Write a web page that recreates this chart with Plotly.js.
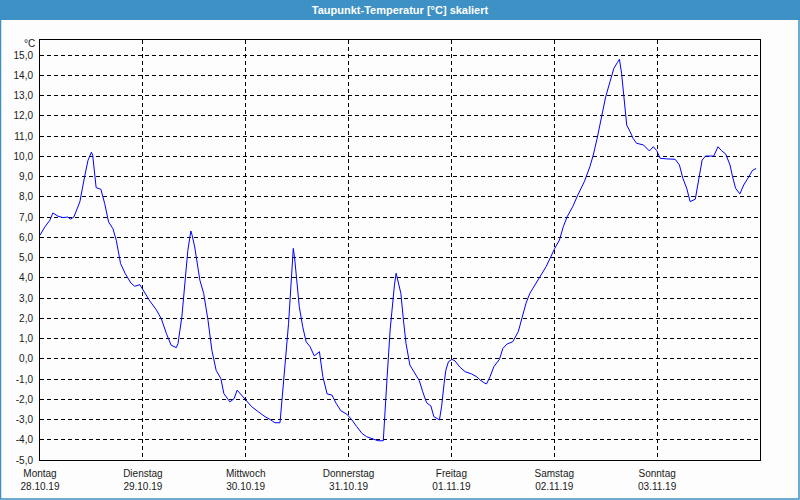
<!DOCTYPE html>
<html>
<head>
<meta charset="utf-8">
<script src="https://cdn.plot.ly/plotly-3.0.1.min.js"></script>
<style>html,body{margin:0;padding:0;background:#fcfdfc;}#chart{width:800px;height:500px;}</style>
</head>
<body>
<div id="chart"></div>
<script>
// hours since Monday 28.10.19 00:00
const hours = [0.0,1.1,2.3,3.0,4.2,5.4,6.5,7.1,7.9,9.3,10.4,11.2,12.0,12.3,13.1,14.2,15.1,16.0,17.0,17.8,18.8,19.9,21.2,22.1,23.3,
24.3,25.6,27.1,28.3,29.5,30.6,31.8,32.2,33.1,33.8,34.5,35.2,35.5,36.1,37.3,38.2,39.2,40.1,41.1,42.2,42.9,44.3,45.3,46.0,47.0,
48.2,49.4,50.9,52.5,53.7,54.8,56.0,56.6,57.2,58.0,58.6,59.1,59.4,59.9,60.5,61.3,62.1,63.0,64.0,65.2,66.0,67.0,68.1,69.1,70.2,71.6,
72.7,73.9,75.1,76.2,77.4,78.9,80.1,80.5,81.0,81.7,82.2,82.7,83.1,83.4,84.2,84.8,85.4,86.3,87.5,88.5,89.3,90.2,91.2,91.9,93.2,93.7,94.3,94.7,95.3,
96.1,96.8,98.0,99.2,100.7,101.9,102.7,103.8,104.2,105.0,105.9,107.2,108.0,109.0,110.3,111.6,112.4,113.4,114.3,115.5,116.7,118.1,119.2,
120.1,121.2,122.1,123.0,124.3,125.5,127.0,128.3,129.1,130.0,131.0,132.0,133.0,133.9,134.7,135.2,135.7,136.3,136.9,137.7,138.4,139.2,140.8,142.2,143.1,
143.9,144.7,146.2,148.2,149.2,150.0,150.9,151.7,152.9,153.7,154.5,155.3,157.2,158.2,159.0,160.0,161.0,161.6,162.3,163.3,164.2,165.4,166.2,167.1];
const dewpoint = [6.1,6.5,6.84,7.2,7.04,6.97,7.0,6.89,7.0,7.75,8.98,9.8,10.2,10.05,8.45,8.37,7.66,6.76,6.43,5.85,4.7,4.2,3.74,3.58,3.66,
3.3,2.86,2.43,1.98,1.24,0.67,0.55,0.75,2.07,3.88,5.36,6.31,6.1,5.52,3.88,3.22,1.9,0.42,-0.57,-0.98,-1.72,-2.13,-1.97,-1.55,-1.79,
-2.12,-2.37,-2.61,-2.86,-3.0,-3.16,-3.16,-1.87,-0.23,1.75,3.89,5.45,5.0,3.73,2.57,1.58,0.84,0.6,0.14,0.35,-0.89,-1.74,-1.79,-2.2,-2.57,-2.74,
-3.0,-3.35,-3.68,-3.85,-3.93,-4.05,-4.05,-2.86,-0.89,1.42,2.74,3.64,4.22,3.97,3.23,1.91,0.76,-0.31,-0.72,-1.08,-1.63,-2.17,-2.33,-2.86,-3.02,-2.37,-1.21,-0.56,-0.15,
-0.03,-0.1,-0.42,-0.64,-0.75,-0.89,-1.05,-1.21,-1.24,-0.89,-0.39,-0.03,0.51,0.73,0.84,1.34,1.91,2.74,3.23,3.64,4.05,4.55,5.04,
5.45,5.86,6.52,7.01,7.51,8.09,8.74,9.48,10.06,10.88,11.95,12.94,13.68,14.34,14.62,14.79,14.1,12.94,11.54,11.21,10.88,10.64,10.56,10.26,10.47,
10.28,9.9,9.87,9.85,9.57,8.91,8.42,7.76,7.88,8.83,9.81,10.01,10.01,10.47,10.28,10.11,9.57,8.99,8.42,8.14,8.58,8.99,9.29,9.40];

const dayTicks = [0,24,48,72,96,120,144];
const dayNames = ["Montag","Dienstag","Mittwoch","Donnerstag","Freitag","Samstag","Sonntag"];
const dayDates = ["28.10.19","29.10.19","30.10.19","31.10.19","01.11.19","02.11.19","03.11.19"];
const yTicks = [-5,-4,-3,-2,-1,0,1,2,3,4,5,6,7,8,9,10,11,12,13,14,15];
const yTickText = yTicks.map(v => v.toFixed(1).replace('.', ','));

// pixel -> paper helpers for decoration shapes
const px = p => (p - 40) / 720;
const py = p => (460 - p) / 420;

const trace = {
  x: hours, y: dewpoint, type: 'scatter', mode: 'lines',
  line: {color: '#0000ff', width: 1}, hoverinfo: 'x+y'
};

const layout = {
  width: 800, height: 500,
  margin: {l: 40, r: 40, t: 40, b: 40, pad: 0},
  paper_bgcolor: '#fcfdfc', plot_bgcolor: '#fcfdfc',
  showlegend: false,
  font: {family: 'Liberation Sans, Arial, sans-serif', size: 10, color: '#1a1a1a'},
  title: {text: 'Taupunkt-Temperatur [°C] skaliert', x: 0.5, xanchor: 'center', y: 0.98, yanchor: 'middle', yref: 'container',
          font: {family: 'Liberation Sans, Arial, sans-serif', size: 11, color: '#ffffff', weight: 'bold'}},
  xaxis: {
    range: [0, 168], tickvals: dayTicks,
    ticktext: dayNames.map((n, i) => n + '<br>' + dayDates[i]),
    showgrid: true, gridcolor: '#000000', gridwidth: 1, griddash: '4px,3px',
    showline: true, linecolor: '#000000', linewidth: 1, mirror: true,
    ticks: '', zeroline: false, ticklabelstandoff: 4, fixedrange: true
  },
  yaxis: {
    range: [-5, 15.7407], tickvals: yTicks, ticktext: yTickText,
    showgrid: true, gridcolor: '#000000', gridwidth: 1, griddash: '4px,3px',
    showline: true, linecolor: '#000000', linewidth: 1, mirror: true,
    ticks: '', zeroline: false, ticklabelstandoff: 4, fixedrange: true
  },
  shapes: [
    {type: 'rect', xref: 'paper', yref: 'paper', x0: px(0), x1: px(800), y0: py(20), y1: py(0),
     fillcolor: '#3d91c4', line: {width: 0}, layer: 'below'},
    {type: 'rect', xref: 'paper', yref: 'paper', x0: px(0.5), x1: px(799), y0: py(499), y1: py(0.5),
     fillcolor: 'rgba(0,0,0,0)', line: {width: 1.5, color: '#3d91c4'}, layer: 'below'}
  ],
  annotations: [
    {text: '°C', xref: 'paper', yref: 'paper', x: px(37), y: py(44), xanchor: 'right', yanchor: 'middle',
     showarrow: false, font: {size: 10, color: '#1a1a1a'}}
  ]
};

Plotly.newPlot('chart', [trace], layout, {displayModeBar: false, staticPlot: true});
</script>
</body>
</html>
